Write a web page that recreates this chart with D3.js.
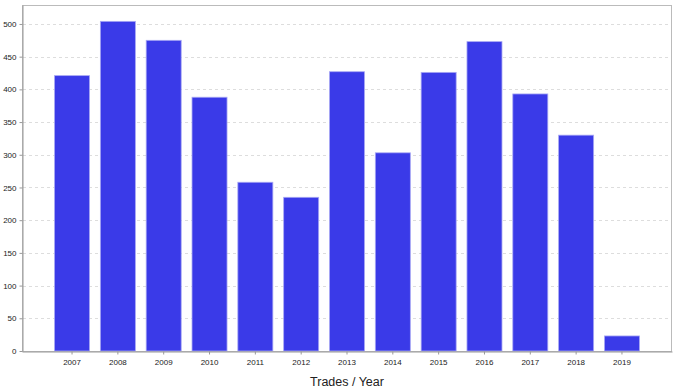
<!DOCTYPE html>
<html>
<head>
<meta charset="utf-8">
<script src="https://cdn.jsdelivr.net/npm/d3@7"></script>
<style>
  body { margin: 0; background: #fff; }
  text { font-family: "Liberation Sans", Arial, sans-serif; }
</style>
</head>
<body>
<div id="chart"></div>
<script>
const years = ['2007', '2008', '2009', '2010', '2011', '2012', '2013', '2014', '2015', '2016', '2017', '2018', '2019']
const trades = [421, 504, 475, 388, 258, 235, 427, 303, 426, 473, 393, 330, 23]
const yTicks = [0, 50, 100, 150, 200, 250, 300, 350, 400, 450, 500]

const width = 678, height = 390
const margin = {top: 5, right: 6, bottom: 39, left: 22}

const svg = d3.select('#chart')
    .append('svg')
    .attr('width', width)
    .attr('height', height)

const x = d3.scaleBand()
    .domain(years)
    .range([margin.left, width - margin.right])
    .paddingInner(0.236)
    .paddingOuter(0.71)

const y = d3.scaleLinear()
    .domain([0, 529])
    .range([height - margin.bottom, margin.top])

const y0 = Math.round(y(0)) + 0.5

// frame
svg.append('rect')
    .attr('x', margin.left + 0.5)
    .attr('y', margin.top + 0.5)
    .attr('width', width - margin.left - margin.right - 1)
    .attr('height', y0 - margin.top - 0.5)
    .attr('fill', 'none')
    .attr('stroke', '#bbb')

// grid
svg.append('g')
    .selectAll('line')
    .data(yTicks.filter(d => d > 0))
    .join('line')
    .attr('x1', margin.left + 1)
    .attr('x2', width - margin.right - 1)
    .attr('y1', d => Math.round(y(d)) + 0.5)
    .attr('y2', d => Math.round(y(d)) + 0.5)
    .attr('stroke', '#ddd')
    .attr('stroke-dasharray', '3,3')

// bars
svg.append('g')
    .selectAll('rect')
    .data(years)
    .join('rect')
    .attr('x', (d) => x(d))
    .attr('y', (d, i) => y(trades[i]))
    .attr('width', x.bandwidth())
    .attr('height', (d, i) => y(0) - y(trades[i]))
    .attr('fill', '#3a3ae8')
    .attr('stroke', '#a8a8f4')
    .attr('stroke-width', 0.8)

// axes
const xAxis = svg.append('g')
    .attr('transform', `translate(0,${y0})`)
    .call(d3.axisBottom(x).tickSize(3).tickSizeOuter(0).tickPadding(5))
xAxis.select('.domain').attr('stroke', '#999')
xAxis.selectAll('.tick line').attr('stroke', '#999')
xAxis.selectAll('text').attr('font-size', 8).attr('fill', '#222')
    .style('font-family', '"Liberation Sans", Arial, sans-serif')

const yAxis = svg.append('g')
    .attr('transform', `translate(${margin.left + 0.5},0)`)
    .call(d3.axisLeft(y).tickValues(yTicks).tickSize(3).tickSizeOuter(0).tickPadding(3))
yAxis.select('.domain').attr('stroke', '#999')
yAxis.selectAll('.tick line').attr('stroke', '#999')
yAxis.selectAll('text').attr('font-size', 8).attr('fill', '#222')
    .style('font-family', '"Liberation Sans", Arial, sans-serif')

// title
svg.append('text')
    .attr('x', (margin.left + width - margin.right) / 2)
    .attr('y', 386)
    .attr('text-anchor', 'middle')
    .attr('font-size', 12.5)
    .attr('fill', '#222')
    .text('Trades / Year')
</script>
</body>
</html>
